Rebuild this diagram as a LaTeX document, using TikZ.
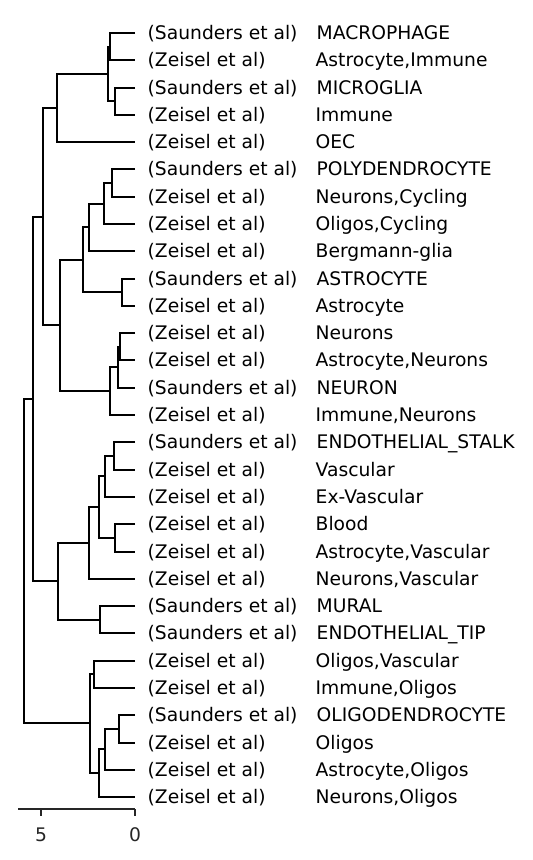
\documentclass[tikz,border=0pt]{standalone}
\usepackage{fontspec}
\setmainfont{DejaVu Sans}
\begin{document}
\begin{tikzpicture}[x=1pt,y=-1pt,
  dendro/.style={line width=2.8pt, line cap=butt, line join=miter},
  src/.style={anchor=base west, inner sep=0pt, font=\fontsize{18.7}{20}\selectfont},
  axisline/.style={line width=1.5pt, draw=black!85},
  ticklbl/.style={anchor=center, inner sep=0pt, font=\fontsize{18.7}{20}\selectfont, text=black!85}]
\useasboundingbox (0,0) rectangle (533,860);
% leaves and labels
\newcommand\lab[4]{%
  \coordinate (l#1) at (135,#2);
  \pgfmathsetmacro\yb{#2+6.7}
  \node[src] (s#1) at (147.5,\yb) {(#3 et al)};
  \ifnum\pdfstrcmp{#3}{Saunders}=0
    \node[src] (t#1) at (316.5,\yb) {#4};
  \else
    \node[src] (t#1) at (315.5,\yb) {#4};
  \fi}
\lab{0}{33}{Saunders}{MACROPHAGE}
\lab{1}{60}{Zeisel}{Astrocyte,Immune}
\lab{2}{88}{Saunders}{MICROGLIA}
\lab{3}{115}{Zeisel}{Immune}
\lab{4}{142}{Zeisel}{OEC}
\lab{5}{169}{Saunders}{POLYDENDROCYTE}
\lab{6}{197}{Zeisel}{Neurons,Cycling}
\lab{7}{224}{Zeisel}{Oligos,Cycling}
\lab{8}{251}{Zeisel}{Bergmann-glia}
\lab{9}{279}{Saunders}{ASTROCYTE}
\lab{10}{306}{Zeisel}{Astrocyte}
\lab{11}{333}{Zeisel}{Neurons}
\lab{12}{360}{Zeisel}{Astrocyte,Neurons}
\lab{13}{388}{Saunders}{NEURON}
\lab{14}{415}{Zeisel}{Immune,Neurons}
\lab{15}{442}{Saunders}{ENDOTHELIAL\_STALK}
\lab{16}{470}{Zeisel}{Vascular}
\lab{17}{497}{Zeisel}{Ex-Vascular}
\lab{18}{524}{Zeisel}{Blood}
\lab{19}{552}{Zeisel}{Astrocyte,Vascular}
\lab{20}{579}{Zeisel}{Neurons,Vascular}
\lab{21}{606}{Saunders}{MURAL}
\lab{22}{633}{Saunders}{ENDOTHELIAL\_TIP}
\lab{23}{661}{Zeisel}{Oligos,Vascular}
\lab{24}{688}{Zeisel}{Immune,Oligos}
\lab{25}{715}{Saunders}{OLIGODENDROCYTE}
\lab{26}{743}{Zeisel}{Oligos}
\lab{27}{770}{Zeisel}{Astrocyte,Oligos}
\lab{28}{797}{Zeisel}{Neurons,Oligos}
% internal nodes
\coordinate (nA) at (110,47);
\coordinate (nB) at (115,101);
\coordinate (nC) at (108,74);
\coordinate (nD) at (57,108);
\coordinate (nE) at (112,183);
\coordinate (nF) at (104,204);
\coordinate (nG) at (89,227);
\coordinate (nH) at (122,292);
\coordinate (nI) at (83,260);
\coordinate (nJ) at (120,347);
\coordinate (nK) at (118,367);
\coordinate (nL) at (110,391);
\coordinate (nM) at (60,325);
\coordinate (nN) at (43,217);
\coordinate (nO) at (114,456);
\coordinate (nP) at (105,476);
\coordinate (nQ) at (115,538);
\coordinate (nR) at (99,507);
\coordinate (nS) at (89,543);
\coordinate (nT) at (100,620);
\coordinate (nU) at (58,581);
\coordinate (nV) at (33,399);
\coordinate (nW) at (94,674);
\coordinate (nX) at (119,729);
\coordinate (nY) at (105,749);
\coordinate (nZ) at (99,773);
\coordinate (nAA) at (90,723);
\coordinate (nRoot) at (24,561);
% dendrogram
\draw[dendro] (l0) -| (nA) |- (l1);
\draw[dendro] (l2) -| (nB) |- (l3);
\draw[dendro] (nA) -| (nC) |- (nB);
\draw[dendro] (nC) -| (nD) |- (l4);
\draw[dendro] (l5) -| (nE) |- (l6);
\draw[dendro] (nE) -| (nF) |- (l7);
\draw[dendro] (nF) -| (nG) |- (l8);
\draw[dendro] (l9) -| (nH) |- (l10);
\draw[dendro] (nG) -| (nI) |- (nH);
\draw[dendro] (l11) -| (nJ) |- (l12);
\draw[dendro] (nJ) -| (nK) |- (l13);
\draw[dendro] (nK) -| (nL) |- (l14);
\draw[dendro] (nI) -| (nM) |- (nL);
\draw[dendro] (nD) -| (nN) |- (nM);
\draw[dendro] (l15) -| (nO) |- (l16);
\draw[dendro] (nO) -| (nP) |- (l17);
\draw[dendro] (l18) -| (nQ) |- (l19);
\draw[dendro] (nP) -| (nR) |- (nQ);
\draw[dendro] (nR) -| (nS) |- (l20);
\draw[dendro] (l21) -| (nT) |- (l22);
\draw[dendro] (nS) -| (nU) |- (nT);
\draw[dendro] (nN) -| (nV) |- (nU);
\draw[dendro] (l23) -| (nW) |- (l24);
\draw[dendro] (l25) -| (nX) |- (l26);
\draw[dendro] (nX) -| (nY) |- (l27);
\draw[dendro] (nY) -| (nZ) |- (l28);
\draw[dendro] (nW) -| (nAA) |- (nZ);
\draw[dendro] (nV) -| (nRoot) |- (nAA);
% axis
\coordinate (axL) at (18,809);
\coordinate (axR) at (135,809);
\coordinate (tk5) at (41,809);
\coordinate (tk0) at (135,809);
\draw[axisline] (axL) -- (axR);
\draw[axisline] (tk5) -- ++(0,7);
\draw[axisline] (tk0) -- ++(0,7);
\node[ticklbl] (t5) at (41,835) {5};
\node[ticklbl] (t0) at (135,835) {0};
\end{tikzpicture}
\end{document}
